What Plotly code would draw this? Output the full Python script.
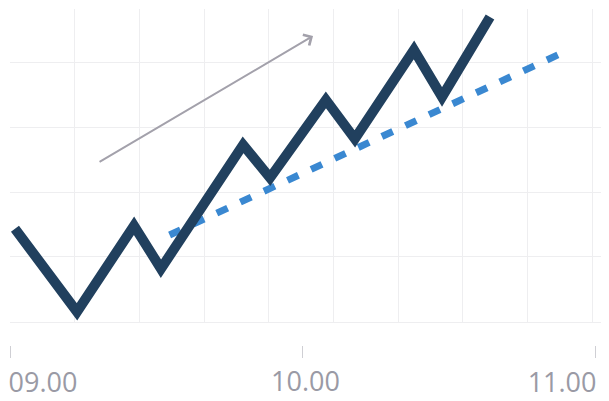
import plotly.graph_objects as go

# Data (hours on x, arbitrary level on y)
price_time = [9.017, 9.229, 9.424, 9.516, 9.797, 9.889, 10.080, 10.179, 10.381, 10.477, 10.641]
price_level = [1.436, 0.154, 1.483, 0.819, 2.734, 2.224, 3.429, 2.826, 4.201, 3.475, 4.710]

trend_time = [10.873, 9.540]
trend_level = [4.124, 1.328]

arrow_start_time, arrow_start_level = 9.301, 2.456
arrow_end_time, arrow_end_level = 10.036, 4.417

tick_values = [9, 10, 11]
tick_labels = ["09.00", "10.00", "11.00"]

x_range = [9, 11.0205]
y_range = [-0.005, 4.834]

grid_color = "#eeeef0"
label_font = dict(family="Open Sans", size=27, color="#9a9aa5")

fig = go.Figure()
fig.add_trace(go.Scatter(x=trend_time, y=trend_level, mode="lines",
                         line=dict(color="#3a88d1", width=7, dash="12px,14px"),
                         hoverinfo="skip"))
fig.add_trace(go.Scatter(x=price_time, y=price_level, mode="lines",
                         line=dict(color="#21405e", width=10),
                         hoverinfo="skip"))
# empty traces so the labelled tick axes get drawn
for ax_name in ["x2", "x3", "x4"]:
    fig.add_trace(go.Scatter(x=[None], y=[None], xaxis=ax_name, yaxis="y",
                             mode="lines", hoverinfo="skip"))

fig.add_annotation(x=arrow_end_time, y=arrow_end_level, ax=arrow_start_time, ay=arrow_start_level,
                   xref="x", yref="y", axref="x", ayref="y", text="", showarrow=True,
                   arrowhead=4, arrowsize=1.2, arrowwidth=2, arrowcolor="#a3a1ab")

common_tick_axis = dict(overlaying="x", anchor="free", position=0, range=x_range,
                        tickmode="array", ticks="outside", ticklen=12, tickwidth=1,
                        tickcolor="#cfcfd4", showgrid=False, showline=False, zeroline=False,
                        tickfont=label_font, automargin=False, ticklabeloverflow="allow")

fig.update_layout(
    width=593, height=385,
    margin=dict(l=2, r=0, t=1, b=48, pad=0, autoexpand=False),
    paper_bgcolor="white", plot_bgcolor="white",
    showlegend=False,
    xaxis=dict(range=x_range, tickmode="linear", tick0=9, dtick=0.2211,
               showgrid=True, gridcolor=grid_color, gridwidth=1.3,
               showticklabels=False, ticks="", zeroline=False, automargin=False,
               showline=True, linecolor=grid_color, linewidth=1.3),
    yaxis=dict(domain=[0.0685, 1], range=y_range, tickmode="linear", tick0=0, dtick=1,
               showgrid=True, gridcolor=grid_color, gridwidth=1.3, automargin=False,
               showticklabels=False, ticks="", zeroline=False, showline=False),
    xaxis2=dict(common_tick_axis, tickvals=[tick_values[1]], ticktext=[tick_labels[1]],
                ticklabelstandoff=1, ticklabelshift=3),
    xaxis3=dict(common_tick_axis, tickvals=[tick_values[0]], ticktext=[tick_labels[0]],
                ticklabelposition="outside right", ticklabelstandoff=14, ticklabelshift=-2),
    xaxis4=dict(common_tick_axis, tickvals=[tick_values[2]], ticktext=[tick_labels[2]],
                ticklabelposition="outside left", ticklabelstandoff=14, ticklabelshift=2),
)

fig.write_html("out.html")
